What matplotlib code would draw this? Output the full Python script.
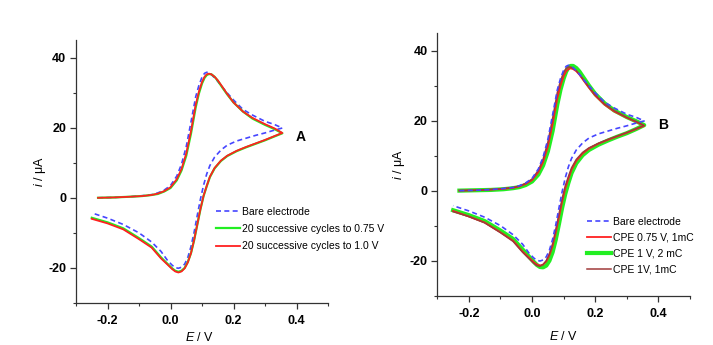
import matplotlib
matplotlib.use("Agg")
import matplotlib.pyplot as plt
from matplotlib.ticker import MultipleLocator

plt.rcParams['font.family'] = ['Liberation Sans', 'DejaVu Sans']
plt.rcParams['mathtext.fontset'] = 'custom'
plt.rcParams['mathtext.it'] = 'Liberation Sans:italic'
plt.rcParams['mathtext.rm'] = 'Liberation Sans'

# potential grids (V) for the forward and reverse sweeps
E_fwd = [-0.23, -0.18, -0.13, -0.09, -0.06, -0.04, -0.02, 0.00, 0.02, 0.035,
         0.05, 0.065, 0.08, 0.09, 0.10, 0.108, 0.115, 0.122, 0.13, 0.14,
         0.15, 0.165, 0.18, 0.20, 0.23, 0.26, 0.30, 0.33, 0.355]
E_rev = [0.355, 0.33, 0.30, 0.27, 0.24, 0.21, 0.18, 0.16, 0.14, 0.125,
         0.115, 0.105, 0.095, 0.085, 0.075, 0.065, 0.055, 0.045, 0.035, 0.025,
         0.015, 0.005, -0.01, -0.03, -0.06, -0.10, -0.15, -0.20, -0.25]

# bare electrode (same in both panels), current in uA
bare_fwd = [0.0, 0.1, 0.3, 0.6, 0.9, 1.4, 2.2, 3.5, 6.2, 9.6,
            14.6, 21.6, 28.8, 32.0, 34.4, 35.5, 35.8, 35.6, 35.1, 34.2,
            33.2, 31.5, 29.9, 27.9, 25.2, 23.6, 21.8, 20.9, 19.9]
bare_rev = [19.9, 19.3, 18.5, 17.8, 17.0, 16.2, 15.0, 13.6, 11.6, 9.2,
            6.8, 3.6, -0.4, -5.0, -9.8, -13.9, -17.0, -18.9, -19.8, -20.1,
            -19.9, -19.2, -17.8, -15.3, -12.6, -10.0, -7.6, -5.8, -4.3]

# panel A
a_green_fwd = [0.0, 0.1, 0.3, 0.5, 0.8, 1.1, 1.8, 2.8, 5.0, 7.8,
               12.0, 18.3, 25.8, 29.7, 32.6, 34.2, 35.0, 35.3, 35.2, 34.5,
               33.4, 31.4, 29.5, 27.2, 24.6, 22.6, 20.8, 19.6, 18.4]
a_green_rev = [18.4, 17.5, 16.4, 15.4, 14.4, 13.3, 11.9, 10.5, 8.4, 5.9,
               3.3, 0.5, -3.3, -7.7, -12.1, -15.8, -18.3, -20.0, -20.8, -21.1,
               -20.8, -20.1, -18.8, -17.0, -13.9, -11.5, -8.7, -7.0, -5.7]
a_red_fwd = [0.0, 0.1, 0.3, 0.5, 0.8, 1.2, 1.9, 3.0, 5.3, 8.2,
             12.6, 19.0, 26.5, 30.2, 33.0, 34.5, 35.2, 35.4, 35.2, 34.5,
             33.5, 31.6, 29.6, 27.2, 24.6, 22.8, 21.0, 19.8, 18.5]
a_red_rev = [18.5, 17.6, 16.5, 15.5, 14.5, 13.4, 12.0, 10.6, 8.5, 6.0,
             3.4, 0.6, -3.2, -7.6, -12.0, -15.8, -18.4, -20.1, -21.0, -21.3,
             -21.0, -20.3, -19.0, -17.3, -14.2, -11.8, -9.0, -7.3, -6.0]

# panel B
b_red_fwd = [0.0, 0.1, 0.3, 0.5, 0.8, 1.2, 1.9, 3.0, 5.3, 8.2,
             12.6, 19.0, 26.4, 30.0, 32.7, 34.1, 34.7, 34.9, 34.7, 34.1,
             33.1, 31.2, 29.4, 27.1, 24.5, 22.6, 20.8, 19.6, 18.5]
b_red_rev = [18.5, 17.6, 16.5, 15.5, 14.5, 13.4, 12.0, 10.6, 8.5, 6.0,
             3.4, 0.6, -3.2, -7.6, -12.0, -15.8, -18.4, -20.2, -21.1, -21.4,
             -21.1, -20.4, -19.1, -17.4, -14.3, -11.9, -9.1, -7.4, -5.8]
b_green_fwd = [0.0, 0.1, 0.2, 0.4, 0.7, 1.0, 1.6, 2.6, 4.6, 7.2,
               11.2, 17.0, 24.6, 28.8, 32.0, 34.0, 35.1, 35.6, 35.6, 35.0,
               34.0, 32.0, 30.0, 27.6, 24.9, 22.9, 21.0, 19.8, 18.7]
b_green_rev = [18.7, 17.6, 16.4, 15.4, 14.3, 13.1, 11.6, 10.1, 7.8, 5.0,
               2.2, -1.0, -5.0, -9.6, -14.0, -17.6, -20.0, -21.4, -21.9, -21.8,
               -21.2, -20.3, -18.8, -16.8, -13.8, -11.4, -8.7, -7.0, -5.6]
b_brown_fwd = [0.0, 0.1, 0.3, 0.6, 0.9, 1.3, 2.1, 3.3, 5.8, 9.0,
               13.8, 20.6, 28.0, 31.3, 33.8, 34.9, 35.3, 35.3, 34.9, 34.2,
               33.2, 31.4, 29.6, 27.3, 24.7, 22.8, 20.9, 19.7, 18.6]
b_brown_rev = [18.6, 17.7, 16.6, 15.6, 14.6, 13.5, 12.2, 10.9, 8.9, 6.5,
               4.0, 1.3, -2.4, -6.8, -11.2, -15.2, -18.0, -20.0, -21.1, -21.6,
               -21.4, -20.7, -19.4, -17.6, -14.5, -12.0, -9.2, -7.4, -6.0]

labels_a = ['Bare electrode', '20 successive cycles to 0.75 V',
            '20 successive cycles to 1.0 V']
labels_b = ['Bare electrode', 'CPE 0.75 V, 1mC', 'CPE 1 V, 2 mC', 'CPE 1V, 1mC']

BLUE = '#4646ff'
GREEN = '#22ee22'
RED = '#ff2020'
BROWN = '#a03a3a'
W, H = 713, 345


def loop(fwd, rev):
    return E_fwd + E_rev, fwd + rev


def style_axes(ax):
    ax.set_xlim(-0.3, 0.5)
    ax.set_ylim(-30, 45)
    ax.xaxis.set_minor_locator(MultipleLocator(0.1))
    ax.yaxis.set_minor_locator(MultipleLocator(10))
    ax.set_xticks([-0.2, 0.0, 0.2, 0.4])
    ax.set_yticks([-20, 0, 20, 40])
    ax.set_xticklabels(['-0.2', '0.0', '0.2', '0.4'])
    ax.set_yticklabels(['-20', '0', '20', '40'])
    for s in ('top', 'right'):
        ax.spines[s].set_visible(False)
    for s in ('left', 'bottom'):
        ax.spines[s].set_color('#333333')
        ax.spines[s].set_linewidth(0.9)
    ax.tick_params(which='major', direction='out', length=4, width=0.9,
                   color='#333333', labelsize=9, pad=3)
    ax.tick_params(axis='x', which='major', pad=4.5)
    ax.tick_params(which='minor', direction='out', length=2.2, width=0.8,
                   color='#333333')
    for t in ax.get_xticklabels() + ax.get_yticklabels():
        t.set_fontweight('bold')
    ax.set_xlabel(r'$E$ / V', fontsize=9)
    ax.set_ylabel(r'$i$ / μA', fontsize=9)
    ax.patch.set_alpha(0)


fig = plt.figure(figsize=(W / 100, H / 100), dpi=100)
fig.patch.set_facecolor('white')

axA = fig.add_axes([76 / W, 1 - 303 / H, 252 / W, 263 / H])
axB = fig.add_axes([437.3 / W, 1 - 295.7 / H, 252.7 / W, 262.7 / H])

dash = (0, (3, 2))
lA = []
lA += axA.plot(*loop(bare_fwd, bare_rev), color=BLUE, lw=1.2, ls=dash)
lA += axA.plot(*loop(a_green_fwd, a_green_rev), color=GREEN, lw=1.6)
lA += axA.plot(*loop(a_red_fwd, a_red_rev), color=RED, lw=1.3)

lB = []
lB += axB.plot(*loop(bare_fwd, bare_rev), color=BLUE, lw=1.2, ls=dash, zorder=4)
lB_green = axB.plot(*loop(b_green_fwd, b_green_rev), color=GREEN, lw=3.0, zorder=2)
lB_red = axB.plot(*loop(b_red_fwd, b_red_rev), color=RED, lw=1.3, zorder=3)
lB_brown = axB.plot(*loop(b_brown_fwd, b_brown_rev), color=BROWN, lw=1.1, zorder=3)
lB += lB_red + lB_green + lB_brown

for ax in (axA, axB):
    style_axes(ax)
axA.yaxis.set_label_coords(-0.111, 0.5)
axA.xaxis.set_label_coords(0.49, -0.105)
axB.yaxis.set_label_coords(-0.121, 0.5)
axB.xaxis.set_label_coords(0.5, -0.13)

axA.text(0.412, 17.3, 'A', fontsize=10, fontweight='bold', ha='center', va='center')
axB.text(0.416, 18.8, 'B', fontsize=10, fontweight='bold', ha='center', va='center')

leg_kw = dict(frameon=False, fontsize=7.5, loc='upper left', borderpad=0,
              borderaxespad=0, handlelength=2.3, handletextpad=0.2,
              bbox_transform=fig.transFigure)
fig.legend(lA, labels_a, bbox_to_anchor=(216 / W, 1 - 207 / H),
           labelspacing=0.68, **leg_kw)
fig.legend(lB, labels_b, bbox_to_anchor=(586.7 / W, 1 - 217 / H),
           labelspacing=0.55, **leg_kw)

fig.savefig('out.png', dpi=100, facecolor='white')
